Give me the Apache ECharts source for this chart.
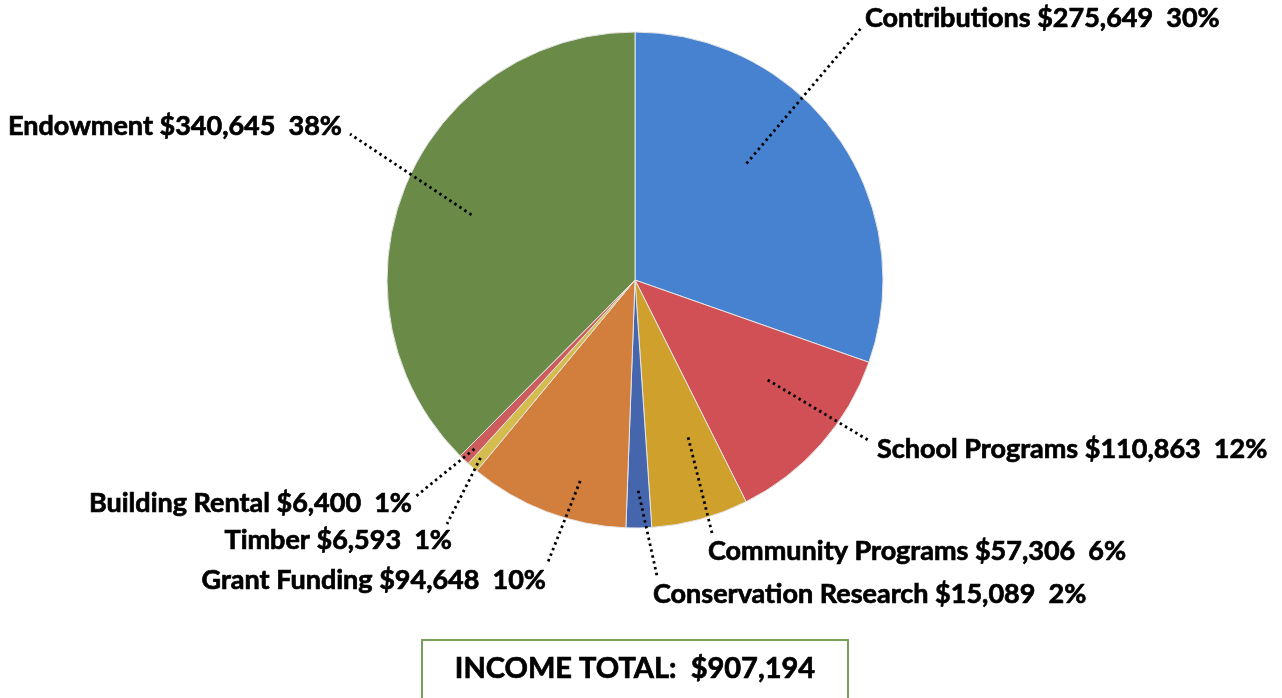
<!DOCTYPE html>
<html>
<head>
<meta charset="utf-8">
<script src="https://cdn.jsdelivr.net/npm/echarts@6/dist/echarts.min.js"></script>
<style>
html,body{margin:0;padding:0;background:#fff;}
#chart{width:1282px;height:698px;}
</style>
</head>
<body>
<div id="chart"></div>
<script>
// ---- data ----
const categories = ['Contributions','School Programs','Community Programs','Conservation Research','Grant Funding','Timber','Building Rental','Endowment'];
const values = [275649, 110863, 57306, 15089, 94648, 6593, 6400, 340645];
const colors = ['#4682D0','#D05055','#CFA02B','#4565AD','#D27E3D','#D4BC4F','#CD5C5C','#6A8A48'];
const totalText = 'INCOME TOTAL:  $907,194';

// ---- layout (label placement, leader lines) ----
const CX = 635, CY = 280, R = 248;
const labelPos = [
  [865, 18, 'left'],
  [877, 449, 'left'],
  [708, 551, 'left'],
  [653, 594, 'left'],
  [546, 580, 'right'],
  [452, 540, 'right'],
  [412, 503, 'right'],
  [342, 126, 'right']
];
const leaderEnd = [[862,27],[868,440],[712,533],[657,576],[548,562],[447,524],[415,497],[350,134]];
const leaderStart = [[0.4,0.65],[0.4,0.67],[0.35,0.67],[0.5,0.85],[0.35,0.84],[0.5,0.95],[0.5,0.94],[0.495,0.71]];

function fmtNum(n){ return String(n).replace(/\B(?=(\d{3})+(?!\d))/g, ','); }

const total = values.reduce((a,b)=>a+b,0);
const startAngles = [];
{ let acc = 0; values.forEach(v => { startAngles.push(acc); acc += v/total*360; }); }

function leaderPoints(i){
  const span = values[i]/total*360;
  const ang = (startAngles[i] + leaderStart[i][0]*span) * Math.PI/180;
  const r = leaderStart[i][1]*R;
  const sx = CX + r*Math.sin(ang), sy = CY - r*Math.cos(ang);
  return [[sx,sy],[leaderEnd[i][0],leaderEnd[i][1]]];
}

const FONT = 'Lato';
const leaderGraphics = values.map((v,i)=>({
  type: 'polyline', z: 100, silent: true,
  shape: { points: leaderPoints(i) },
  style: { stroke: '#000', lineWidth: 2.8, lineDash: [2.5, 3.5], lineCap: 'butt', fill: null }
}));

const chart = echarts.init(document.getElementById('chart'));
chart.setOption({
  animation: false,
  backgroundColor: '#fff',
  series: [{
    type: 'pie',
    center: [CX, CY],
    radius: R,
    startAngle: 90,
    clockwise: true,
    avoidLabelOverlap: false,
    emphasis: { disabled: true },
    data: categories.map((c,i)=>({ name: c, value: values[i], itemStyle: { color: colors[i] } })),
    itemStyle: { borderColor: '#e6e6e6', borderWidth: 1 },
    label: {
      show: true,
      position: 'outside',
      fontFamily: FONT,
      fontWeight: 'bold',
      fontSize: 27,
      color: '#000',
      textBorderColor: '#000',
      textBorderWidth: 0.7,
      formatter: p => p.name + ' $' + fmtNum(p.value) + '  ' + Math.round(p.percent) + '%'
    },
    labelLine: { show: false },
    labelLayout: function(params){
      const i = params.dataIndex;
      return {
        x: labelPos[i][0],
        y: labelPos[i][1],
        align: labelPos[i][2],
        verticalAlign: 'middle'
      };
    }
  }],
  graphic: leaderGraphics.concat([{
    type: 'group',
    children: [
      { type: 'rect', shape: { x: 422, y: 640, width: 426, height: 70 },
        style: { fill: '#fff', stroke: '#77A05A', lineWidth: 2 } },
      { type: 'text', x: 635, y: 669,
        style: { text: totalText, fontFamily: FONT, fontWeight: 'bold', fontSize: 29, fill: '#000',
                 stroke: '#000', lineWidth: 0.7, align: 'center', verticalAlign: 'middle' } }
    ]
  }])
});
</script>
</body>
</html>
